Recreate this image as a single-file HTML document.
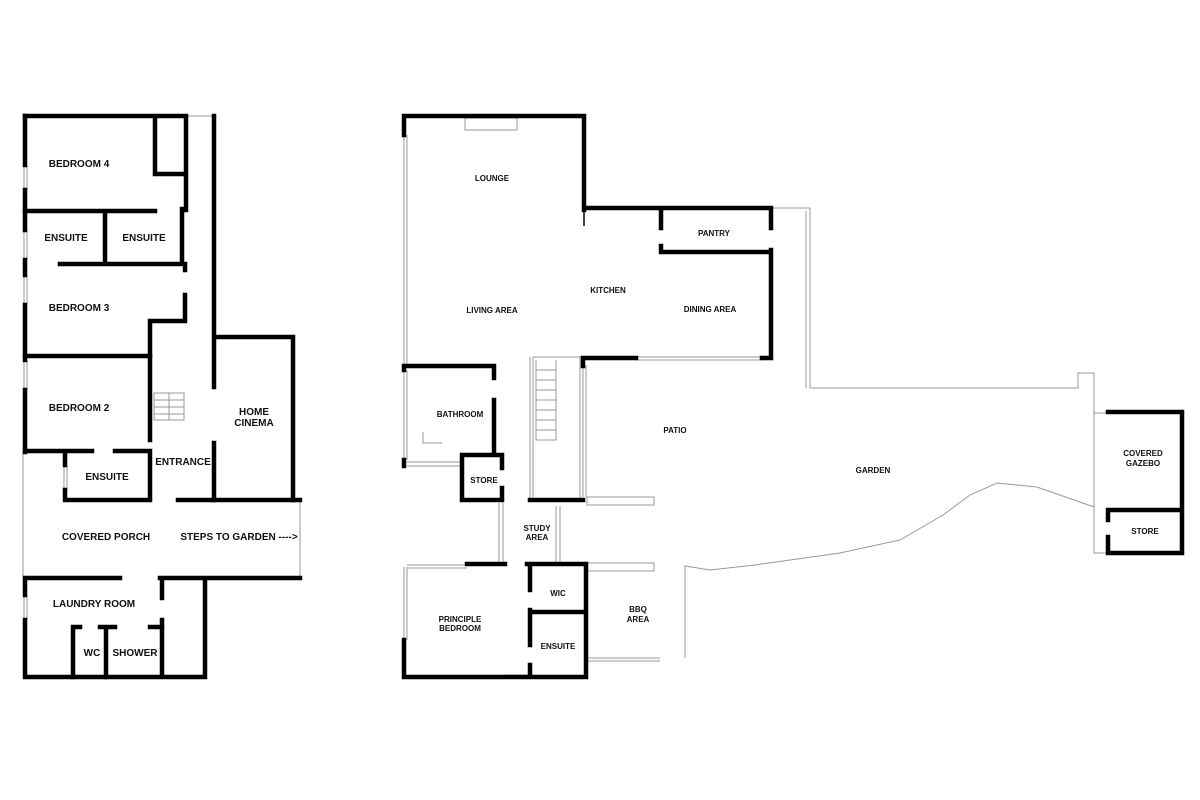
<!DOCTYPE html>
<html><head><meta charset="utf-8"><style>
html,body{margin:0;padding:0;background:#fff}
svg{display:block}
text{font-family:"Liberation Sans",Arial,sans-serif;font-weight:bold;fill:#111;text-anchor:middle}
.L{font-size:10px}
.R{font-size:8px}
</style></head><body>
<svg width="1200" height="800" viewBox="0 0 1200 800" xmlns="http://www.w3.org/2000/svg">
<rect width="1200" height="800" fill="#fff"/>
<g fill="none" stroke="#999" stroke-width="1">
<path d="M23 452V576M300 500V576M186 116H214"/>
<path d="M404 135V365M407 135V365"/>
<path d="M404 370V460M407 370V460M407 462H460M407 466H460"/>
<path d="M636 357H762M636 360H762"/>
<path d="M771 208H810V388M806 211V388M810 388H1078V373H1094V553H1108M1094 413H1108"/>
<path d="M1094 507L1037 487L997 483L970 495L943 515L900 540L840 553L790 560L755 565L710 570L685 566V658"/>
<path d="M530 357V500M533 357V500M533 357H580V500M580 357V500M583 365V497M586 365V497"/>
<path d="M536 360V440H556V360M536 370H556M536 380H556M536 390H556M536 400H556M536 410H556M536 420H556M536 430H556"/>
<rect x="587" y="497" width="67" height="8"/>
<rect x="587" y="563" width="67" height="8"/>
<path d="M587 658H660M587 661H660"/>
<path d="M499 503V562M503 503V562M556 506V562M560 506V562"/>
<path d="M404 567V640M407 567V640M407 565H467M407 568H467"/>
<path d="M505 675H527M505 678H527"/>
<path d="M423 432V443H442"/>
<rect x="465" y="118" width="52" height="12"/>
<path d="M154 393H184V420H154ZM154 400H184M154 407H184M154 414H184M169 393V420"/>
<path d="M24 165V190M27 165V190M24 230V260M27 230V260M24 275V305M27 275V305M24 360V390M27 360V390M24 595V620M27 595V620M64 465V490M67 465V490"/>
</g>
<g fill="none" stroke="#000" stroke-width="4.5" stroke-linecap="square">
<path d="M25 116H186V210M155 116V174H186"/>
<path d="M25 116V165M25 190V230M25 260V275M25 305V360M25 390V452"/>
<path d="M214 116V387M214 443V500M214 337H293V500"/>
<path d="M25 211H155M182 209V264M105 211V264M60 264H185M185 264V270M185 295V321H150V440"/>
<path d="M25 356H150M25 451H92M115 451H150M65 451V465M65 490V500H150M150 451V500"/>
<path d="M178 500H300"/>
<path d="M25 578H120M160 578H300M25 578V595M25 620V677H205V578M162 578V598M162 620V677"/>
<path d="M73 627V677M106 627V677M73 627H80M100 627H115M150 627H162"/>
<path d="M404 135V116H584V210M584 208H771V228M771 250V358M661 208V228M661 246V252H771M762 358H771M583 358H636M583 358V366"/>
<path d="M404 366H494V378M494 400V455M404 366V370M404 460V466M462 455H502V468M502 488V500H462V455"/>
<path d="M530 500H583"/>
<path d="M467 564H505M527 564H586V677H404V640M530 564V590M530 610V645M530 665V677M530 612H586"/>
<path d="M1108 412H1182V553H1108V537M1108 520V510H1182"/>
</g>
<g stroke="#000" stroke-width="1.5" fill="none"><path d="M584 210V226"/></g>
<text class="L" x="79" y="167">BEDROOM 4</text>
<text class="L" x="66" y="241">ENSUITE</text>
<text class="L" x="144" y="241">ENSUITE</text>
<text class="L" x="79" y="311">BEDROOM 3</text>
<text class="L" x="79" y="411">BEDROOM 2</text>
<text class="L" x="254" y="415">HOME</text>
<text class="L" x="254" y="426">CINEMA</text>
<text class="L" x="183" y="465">ENTRANCE</text>
<text class="L" x="107" y="480">ENSUITE</text>
<text class="L" x="106" y="540">COVERED PORCH</text>
<text class="L" x="239" y="540">STEPS TO GARDEN ----&gt;</text>
<text class="L" x="94" y="607">LAUNDRY ROOM</text>
<text class="L" x="92" y="656">WC</text>
<text class="L" x="135" y="656">SHOWER</text>
<text class="R" x="492" y="181">LOUNGE</text>
<text class="R" x="608" y="293">KITCHEN</text>
<text class="R" x="714" y="236">PANTRY</text>
<text class="R" x="492" y="313">LIVING AREA</text>
<text class="R" x="710" y="312">DINING AREA</text>
<text class="R" x="460" y="417">BATHROOM</text>
<text class="R" x="675" y="433">PATIO</text>
<text class="R" x="873" y="473">GARDEN</text>
<text class="R" x="1143" y="456">COVERED</text>
<text class="R" x="1143" y="466">GAZEBO</text>
<text class="R" x="484" y="483">STORE</text>
<text class="R" x="1145" y="534">STORE</text>
<text class="R" x="537" y="531">STUDY</text>
<text class="R" x="537" y="540">AREA</text>
<text class="R" x="558" y="596">WIC</text>
<text class="R" x="638" y="612">BBQ</text>
<text class="R" x="638" y="622">AREA</text>
<text class="R" x="460" y="622">PRINCIPLE</text>
<text class="R" x="460" y="631">BEDROOM</text>
<text class="R" x="558" y="649">ENSUITE</text>
</svg>
</body></html>
